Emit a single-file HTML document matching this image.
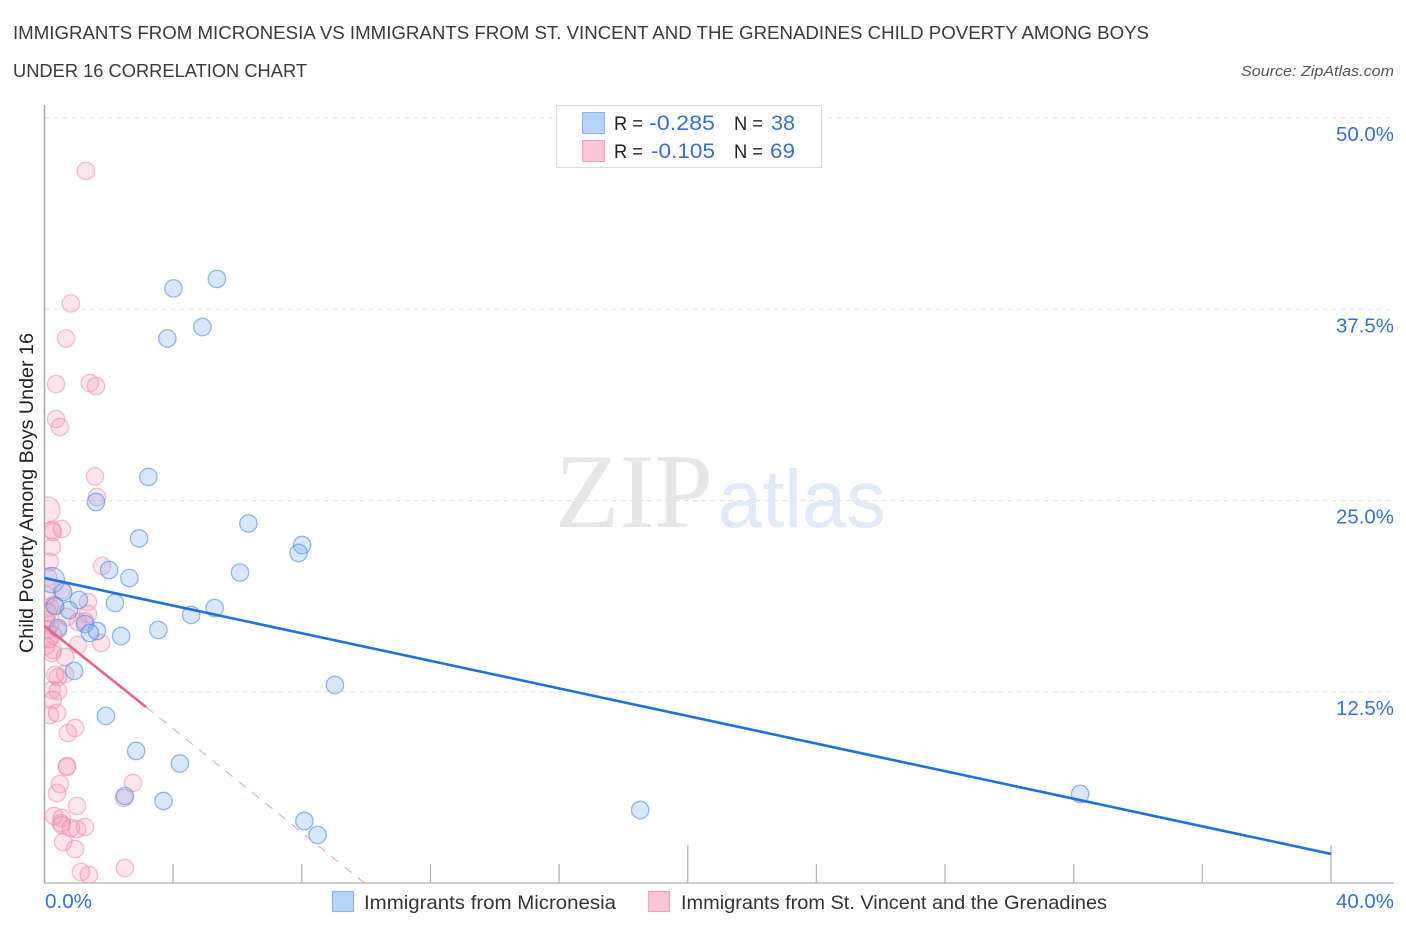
<!DOCTYPE html>
<html lang="en">
<head>
<meta charset="utf-8">
<title>Child Poverty Among Boys Under 16 Correlation Chart</title>
<style>
html,body{margin:0;padding:0;background:#fff;}
svg{display:block;font-family:"Liberation Sans",sans-serif;}
</style>
</head>
<body>
<svg id="chart" xmlns="http://www.w3.org/2000/svg" width="1406" height="930" viewBox="0 0 1406 930">
  <defs>
    <clipPath id="plot-clip"><rect x="44.5" y="100" width="1350" height="783"/></clipPath>
  </defs>
  <rect x="0" y="0" width="1406" height="930" fill="#fff"/>
  <text x="13" y="39" font-size="18.5" fill="#3a3a3a" textLength="1136" lengthAdjust="spacingAndGlyphs">IMMIGRANTS FROM MICRONESIA VS IMMIGRANTS FROM ST. VINCENT AND THE GRENADINES CHILD POVERTY AMONG BOYS</text>
  <text x="13" y="77" font-size="18.5" fill="#3a3a3a" textLength="294" lengthAdjust="spacingAndGlyphs">UNDER 16 CORRELATION CHART</text>
  <text x="1241" y="76" font-size="15" font-style="italic" fill="#555" textLength="153" lengthAdjust="spacingAndGlyphs">Source: ZipAtlas.com</text>

  <g>
    <text x="555" y="527" font-family="'Liberation Serif',serif" font-size="106" fill="#e6e6e6" textLength="158" lengthAdjust="spacingAndGlyphs">ZIP</text>
    <text x="718" y="527" font-family="'Liberation Sans',sans-serif" font-size="82" fill="#e0eaf9" textLength="168" lengthAdjust="spacingAndGlyphs">atlas</text>
  </g>

  <g id="grid"></g>
  <g id="axes"></g>
  <g id="points" clip-path="url(#plot-clip)"></g>
  <g id="trends"></g>
  <g id="labels"></g>

  <text transform="translate(33,653) rotate(-90)" font-size="19" fill="#222" textLength="320" lengthAdjust="spacingAndGlyphs">Child Poverty Among Boys Under 16</text>

  <g>
    <rect x="556.5" y="105.5" width="265" height="62" fill="#fff" stroke="#dcdcdc" stroke-width="1.2"/>
    <rect x="582.5" y="112.5" width="22" height="21" fill="#b9d3f8" stroke="#8db5ea" stroke-width="1"/>
    <rect x="582.5" y="140.5" width="22" height="21" fill="#fcc5d8" stroke="#f2a3bd" stroke-width="1"/>
    <text x="614" y="130" font-size="19.5" fill="#222" textLength="29" lengthAdjust="spacingAndGlyphs">R =</text>
    <text x="649" y="130" font-size="21" fill="#3a70d0" textLength="66" lengthAdjust="spacingAndGlyphs">-0.285</text>
    <text x="734" y="130" font-size="19.5" fill="#222" textLength="29" lengthAdjust="spacingAndGlyphs">N =</text>
    <text x="771" y="130" font-size="21" fill="#3a70d0" textLength="24" lengthAdjust="spacingAndGlyphs">38</text>
    <text x="614" y="158" font-size="19.5" fill="#222" textLength="29" lengthAdjust="spacingAndGlyphs">R =</text>
    <text x="651" y="158" font-size="21" fill="#3a70d0" textLength="64" lengthAdjust="spacingAndGlyphs">-0.105</text>
    <text x="734" y="158" font-size="19.5" fill="#222" textLength="29" lengthAdjust="spacingAndGlyphs">N =</text>
    <text x="770" y="158" font-size="21" fill="#3a70d0" textLength="25" lengthAdjust="spacingAndGlyphs">69</text>
  </g>

  <g>
    <g>
      <rect x="332.5" y="891.5" width="21" height="20" fill="#b9d3f8" stroke="#8db5ea" stroke-width="1.2"/>
      <text x="364" y="909" font-size="19.5" fill="#333" textLength="252" lengthAdjust="spacingAndGlyphs">Immigrants from Micronesia</text>
    </g>
    <g>
      <rect x="648.5" y="891.5" width="21" height="20" fill="#fcc5d8" stroke="#f2a3bd" stroke-width="1.2"/>
      <text x="681" y="909" font-size="19.5" fill="#333" textLength="426" lengthAdjust="spacingAndGlyphs">Immigrants from St. Vincent and the Grenadines</text>
    </g>
  </g>
</svg>
<script>
const yTickValues = [12.5, 25, 37.5, 50];
const yTickLabels = ["12.5%", "25.0%", "37.5%", "50.0%"];
const xTickValues = [0, 4, 8, 12, 16, 20, 24, 28, 32, 36, 40];
const xMajorTicks = [20, 40];
const xEdgeValues = [0, 40];
const xEdgeLabels = ["0.0%", "40.0%"];

const micronesiaX = [4.01,5.36,3.82,4.91,3.23,1.60,2.94,6.34,8.01,7.90,6.08,2.01,2.64,0.23,0.58,1.07,2.19,0.76,0.33,5.29,4.56,3.54,2.38,1.63,1.26,1.41,0.42,0.92,9.03,1.91,2.85,4.21,3.70,2.50,8.08,8.49,18.52,32.20];
const micronesiaY = [38.86,39.48,35.59,36.34,26.54,24.90,22.52,23.50,22.09,21.57,20.29,20.46,19.93,19.80,19.02,18.50,18.30,17.84,18.10,17.97,17.52,16.54,16.14,16.47,16.93,16.34,16.67,13.86,12.94,10.92,8.63,7.81,5.36,5.69,4.05,3.14,4.77,5.82];
const micronesiaWeight = [1,1,1,1,1,1,1,1,1,1,1,1,1,1.45,1,1,1,1,1,1,1,1,1,1,1,1,1,1,1,1,1,1,1,1,1,1,1,1];

const vincentX = [1.29,0.82,0.67,0.36,1.41,1.60,0.36,0.48,1.57,1.63,0.08,0.23,0.54,0.26,0.23,0.17,1.79,0.11,0.54,1.35,0.17,0.30,1.35,0.70,1.04,0.42,0.05,0.17,0.26,1.04,1.76,0.26,0.23,0.64,0.05,0.42,0.64,0.23,0.42,0.26,0.17,0.39,0.73,0.95,0.70,0.70,0.48,0.39,1.01,2.75,2.47,0.30,0.54,0.51,0.54,1.01,1.26,0.82,0.58,0.95,1.13,1.38,2.50,0.08,0.11,0.08,0.14,0.33,1.26];
const vincentY = [46.54,37.88,35.59,32.61,32.68,32.48,30.33,29.80,26.57,25.23,24.38,23.07,23.14,22.94,21.96,20.98,20.72,20.00,19.15,18.37,18.04,18.17,17.58,17.39,17.06,16.54,17.19,16.86,16.21,15.56,15.69,15.23,15.03,14.77,15.50,13.46,13.66,12.61,12.55,11.96,10.98,11.11,9.80,10.13,7.65,7.58,6.47,5.88,5.03,6.54,5.56,4.38,4.25,3.92,3.79,3.53,3.66,3.59,2.68,2.22,0.72,0.52,0.98,18.80,17.70,16.54,15.95,13.60,17.10];
const vincentWeight = [1,1,1,1,1,1,1,1,1,1,1.5,1,1,1,1,1,1,1,1,1,1,1,1,1,1,1,1,1,1,1,1,1,1,1,1,1,1,1,1,1,1,1,1,1,1,1,1,1,1,1,1,1,1,1,1,1,1,1,1,1,1,1,1,1,1,1,1,1,1];

const micronesiaTrendX = [0, 40];
const micronesiaTrendY = [19.93, 1.90];
const vincentTrendSolidX = [0, 3.16];
const vincentTrendSolidY = [16.8, 11.5];
const vincentTrendDashX = [3.16, 9.95];
const vincentTrendDashY = [11.5, 0];

const NS = "http://www.w3.org/2000/svg";
function sx(v) { return 44.5 + v * 32.1625; }
function sy(v) { return 883 - v * 15.3; }
function make(parent, tag, attrs, text) {
  const el = document.createElementNS(NS, tag);
  for (const k in attrs) el.setAttribute(k, attrs[k]);
  if (text !== undefined) el.textContent = text;
  parent.appendChild(el);
  return el;
}

const grid = document.getElementById("grid");
const axes = document.getElementById("axes");
const labels = document.getElementById("labels");
const points = document.getElementById("points");
const trends = document.getElementById("trends");

yTickValues.forEach(function (v, i) {
  const line = make(grid, "line", {x1: 44.5, x2: 1394, y1: sy(v), y2: sy(v), stroke: "#e2e2e2", "stroke-width": 1, "stroke-dasharray": "5 4"});
  
  
  const t = make(labels, "text", {x: 1336, y: sy(v) + 23, "font-size": 20, fill: "#3a70d0", textLength: 58, lengthAdjust: "spacingAndGlyphs"}, yTickLabels[i]);
  
  
});

const yAxis = make(axes, "line", {x1: 44.5, x2: 44.5, y1: 105, y2: 884, stroke: "#a8a8a8", "stroke-width": 1.5});


const xAxis = make(axes, "line", {x1: 44, x2: 1394, y1: 883, y2: 883, stroke: "#bdbdbd", "stroke-width": 1.6});



xTickValues.forEach(function (v) {
  if (v === 0) return;
  const major = xMajorTicks.indexOf(v) >= 0;
  const tick = make(axes, "line", {x1: sx(v), x2: sx(v), y1: major ? 845 : 864, y2: 883, stroke: "#b5b5b5", "stroke-width": 1.3});
  
  
});

xEdgeValues.forEach(function (v, i) {
  const first = i === 0;
  const t = make(labels, "text", {x: first ? 45 : 1336, y: 908, "font-size": 20, fill: "#3a70d0", textLength: first ? 47 : 58, lengthAdjust: "spacingAndGlyphs"}, xEdgeLabels[i]);
  
  
});

vincentX.forEach(function (x, i) {
  const c = make(points, "circle", {cx: sx(x), cy: sy(vincentY[i]), r: 8.7 * vincentWeight[i], fill: "rgba(248,150,185,0.26)", stroke: "rgba(236,130,165,0.5)", "stroke-width": 1.3});
  
  
});
micronesiaX.forEach(function (x, i) {
  const c = make(points, "circle", {cx: sx(x), cy: sy(micronesiaY[i]), r: 8.7 * micronesiaWeight[i], fill: "rgba(120,170,238,0.28)", stroke: "rgba(80,140,222,0.6)", "stroke-width": 1.3});
  
  
});

const vDash = make(trends, "line", {x1: sx(vincentTrendDashX[0]), y1: sy(vincentTrendDashY[0]), x2: sx(vincentTrendDashX[1]), y2: sy(vincentTrendDashY[1]), stroke: "#ee9ab8", "stroke-width": 1, "stroke-dasharray": "9 8"});


const vSolid = make(trends, "line", {x1: sx(vincentTrendSolidX[0]), y1: sy(vincentTrendSolidY[0]), x2: sx(vincentTrendSolidX[1]), y2: sy(vincentTrendSolidY[1]), stroke: "#e8648f", "stroke-width": 2.6});


const mLine = make(trends, "line", {x1: sx(micronesiaTrendX[0]), y1: sy(micronesiaTrendY[0]), x2: sx(micronesiaTrendX[1]), y2: sy(micronesiaTrendY[1]), stroke: "#2470d8", "stroke-width": 2.6});


</script>
</body>
</html>
